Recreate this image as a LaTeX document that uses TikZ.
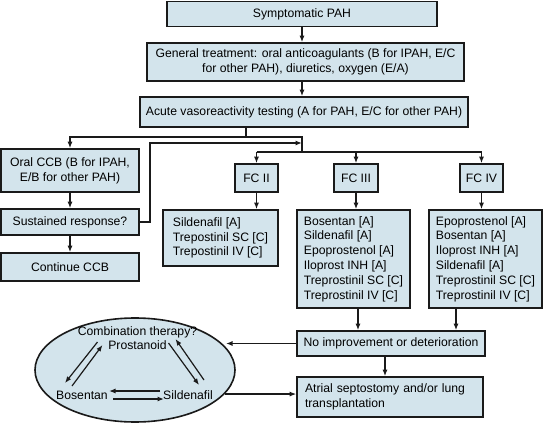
\documentclass[tikz,border=0pt]{standalone}
\usepackage{fontspec}
\setmainfont{Liberation Sans}
\usetikzlibrary{shapes.geometric,arrows.meta}
\definecolor{pahfill}{HTML}{D3E4EC}
\definecolor{pahline}{HTML}{1A1A1A}

\begin{document}
\begin{tikzpicture}[x=1pt, y=-1pt,
    every node/.style={font=\fontsize{12.2}{14.8}\selectfont},
    pahbox/.style={rectangle, draw=pahline, line width=1.6pt, fill=pahfill, inner sep=0pt, align=center},
    listbox/.style={pahbox, align=left},
    arr/.style={-{Latex[length=6.5pt,width=5pt]}, line width=1.2pt, draw=pahline},
    link/.style={line width=1.2pt, draw=pahline}]
            \useasboundingbox (0,0) rectangle (544,425);

            % Main path
            \node[pahbox, minimum width=270pt, minimum height=25pt] (sympt) at (302,14) {Symptomatic PAH};
            \node[pahbox, minimum width=317pt, minimum height=38pt] (general) at (305.5,62) {General treatment: oral anticoagulants (B for IPAH, E/C\\for other PAH), diuretics, oxygen (E/A)};
            \node[pahbox, minimum width=328pt, minimum height=30pt] (acute) at (304,112) {Acute vasoreactivity testing (A for PAH, E/C for other PAH)};

            % Responders
            \node[pahbox, minimum width=138pt, minimum height=43pt] (oralccb) at (70,170.5) {Oral CCB (B for IPAH,\\E/B for other PAH)};
            \node[pahbox, minimum width=138pt, minimum height=26pt] (sustained) at (70,222) {Sustained response?};
            \node[pahbox, minimum width=138pt, minimum height=28pt] (continue) at (70,267) {Continue CCB};

            % Functional classes
            \node[pahbox, minimum width=43pt, minimum height=28pt] (fcii) at (256.5,178) {FC II};
            \node[pahbox, minimum width=44pt, minimum height=28pt] (fciii) at (356,178) {FC III};
            \node[pahbox, minimum width=43pt, minimum height=28pt] (fciv) at (481.5,178) {FC IV};

            \node[listbox, minimum width=115pt, minimum height=56pt] (listii) at (220.5,238) {Sildenafil [A]\\Trepostinil SC [C]\\Trepostinil IV [C]};
            \node[listbox, minimum width=113pt, minimum height=98pt] (listiii) at (353.5,259) {Bosentan [A]\\Sildenafil [A]\\Epoprostenol [A]\\Iloprost INH [A]\\Treprostinil SC [C]\\Treprostinil IV [C]};
            \node[listbox, minimum width=113pt, minimum height=98pt] (listiv) at (485.5,259) {Epoprostenol [A]\\Bosentan [A]\\Iloprost INH [A]\\Sildenafil [A]\\Treprostinil SC [C]\\Treprostinil IV [C]};

            \node[pahbox, minimum width=188pt, minimum height=25pt] (noimprove) at (391,343.5) {No improvement or deterioration};
            \node[pahbox, align=left, text width=170pt, inner xsep=8pt, minimum height=40pt] (atrial) at (390,397) {Atrial septostomy and/or lung\\transplantation};

            % Combination therapy
            \node[ellipse, draw=pahline, line width=1.6pt, fill=pahfill, minimum width=200pt, minimum height=104pt] (combo) at (135,370) {};
            \node (combotxt) at (137.5,332) {Combination therapy?};
            \node[inner sep=1pt] (prost) at (137.5,345) {Prostanoid};
            \node[inner sep=1pt] (bosen) at (82,395) {Bosentan};
            \node[inner sep=1pt] (silden) at (188,395) {Sildenafil};

            \draw[arr] ([shift={(-40,-3)}]prost.center) -- ([shift={(-17,-12)}]bosen.center);
            \draw[arr] ([shift={(-10,-9)}]bosen.center) -- ([shift={(-35,0)}]prost.center);
            \draw[arr] ([shift={(31,-2)}]prost.center) -- ([shift={(11,-10)}]silden.center);
            \draw[arr] ([shift={(16,-15)}]silden.center) -- ([shift={(38,-6)}]prost.center);
            \draw[arr] ([shift={(-28,-4)}]silden.center) -- ([shift={(27,-4)}]bosen.center);
            \draw[arr] ([shift={(31,4)}]bosen.center) -- ([shift={(-24,4)}]silden.center);

            % Junctions
            \coordinate (split) at (246,137);
            \coordinate (joinup) at (302,137);
            \coordinate (joindown) at (302,152);
            \coordinate (bend) at (150,143);

            \draw[arr] (sympt.south) -- (sympt.south |- general.north);
            \draw[arr] (general.south -| sympt.south) -- (sympt.south |- acute.north);
            \draw[link] (acute.south -| split) -- (split);
            \draw[arr] (split) -| (oralccb.north);
            \draw[link] (split) -- (joinup) -- (joindown);
            \draw[link] (fcii.north |- joindown) -- (fciv.north |- joindown);
            \draw[arr] (fcii.north |- joindown) -- (fcii.north);
            \draw[arr] (fciii.north |- joindown) -- (fciii.north);
            \draw[arr] (fciv.north |- joindown) -- (fciv.north);

            \draw[arr] (oralccb) -- (sustained);
            \draw[arr] (sustained) -- (continue);
            \draw[arr] (sustained.east) -| (bend) -- (bend -| joinup);

            \draw[arr] (fcii.south) -- (fcii.south |- listii.north);
            \draw[arr] (fciii.south) -- (fciii.south |- listiii.north);
            \draw[arr] (fciv.south) -- (fciv.south |- listiv.north);

            \draw[arr] ([xshift=4.5pt]listiii.south) -- ([xshift=4.5pt]listiii.south |- noimprove.north);
            \draw[arr] ([xshift=-29.5pt]listiv.south) -- ([xshift=-29.5pt]listiv.south |- noimprove.north);
            \draw[arr] ([xshift=-6pt]noimprove.south) -- ([xshift=-6pt]noimprove.south |- atrial.north);
            \draw[arr] (noimprove.west) -- (noimprove.west -| combo.14);
            \draw[arr] (combo.-15) -- (combo.-15 -| atrial.west);
        \end{tikzpicture}
\end{document}
